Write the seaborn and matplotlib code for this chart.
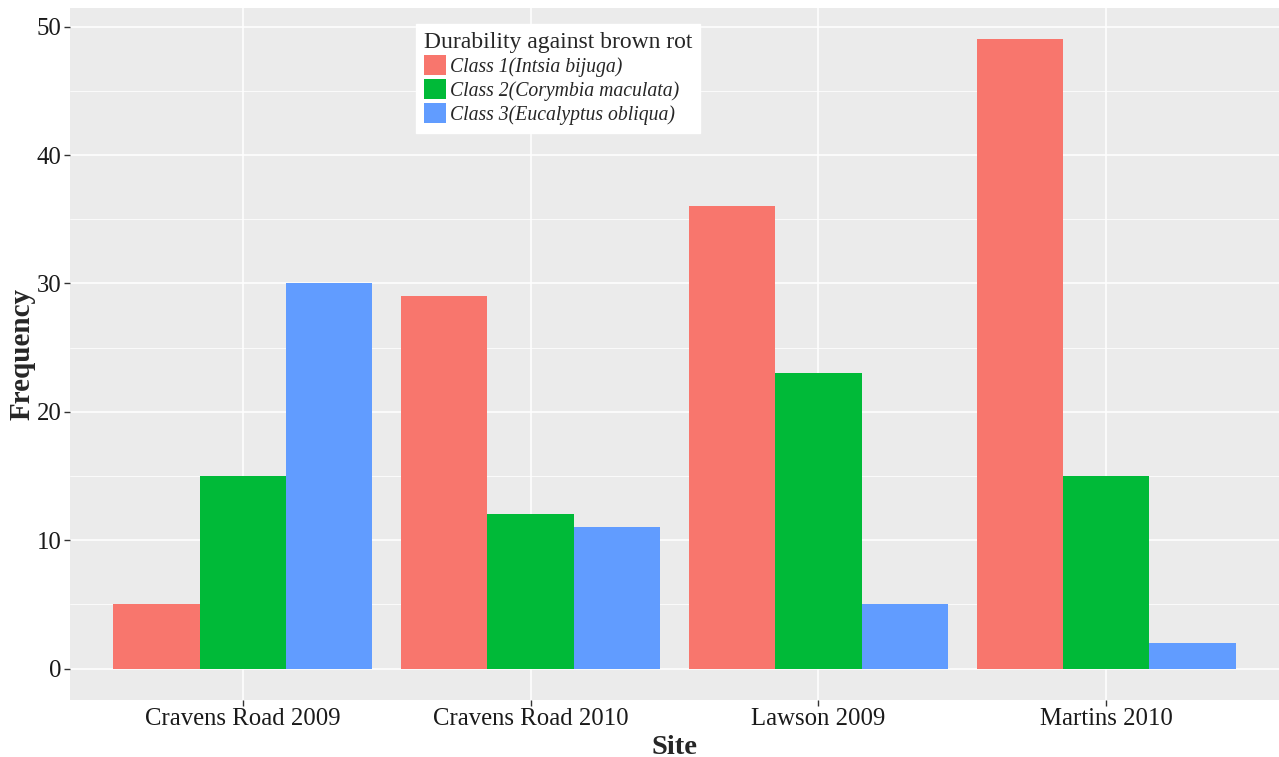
import pandas as pd
import matplotlib.pyplot as plt
import seaborn as sns
from matplotlib.patches import Patch
from matplotlib.ticker import MultipleLocator

# Data
sites = ['Cravens Road 2009', 'Cravens Road 2010', 'Lawson 2009', 'Martins 2010']
classes = ['Class 1(Intsia bijuga)', 'Class 2(Corymbia maculata)', 'Class 3(Eucalyptus obliqua)']
class1 = [5, 29, 36, 49]
class2 = [15, 12, 23, 15]
class3 = [30, 11, 5, 2]

colors = ['#F8766D', '#00BA38', '#619CFF']

df = pd.DataFrame({
    'Site': sites * 3,
    'Class': [classes[0]] * 4 + [classes[1]] * 4 + [classes[2]] * 4,
    'Frequency': class1 + class2 + class3,
})

sns.set_theme(style="darkgrid")
plt.rcParams['font.family'] = ['Liberation Serif', 'DejaVu Serif']
plt.rcParams['xtick.bottom'] = True
plt.rcParams['ytick.left'] = True

fig = plt.figure(figsize=(12.79, 7.57), dpi=100)
ax = fig.add_axes([70 / 1279, 57 / 757, 1 - 70 / 1279, (700 - 8) / 757])
ax.set_facecolor('#EBEBEB')

sns.barplot(data=df, x='Site', y='Frequency', hue='Class', order=sites,
            hue_order=classes, palette=colors, saturation=1, width=0.9,
            gap=0, linewidth=0, ax=ax, legend=False)

ax.set_xlim(-0.6, 3.6)
ax.set_ylim(-2.45, 51.45)
ax.yaxis.set_major_locator(MultipleLocator(10))
ax.yaxis.set_minor_locator(MultipleLocator(5))
ax.grid(True, which='major', color='white', linewidth=1.1)
ax.grid(True, which='minor', axis='y', color='white', linewidth=0.55)
ax.set_axisbelow(True)
for s in ax.spines.values():
    s.set_visible(False)

ax.tick_params(axis='both', which='major', bottom=True, left=True, length=4,
               width=1, color='#333333', labelsize=17.8, labelcolor='#1a1a1a', pad=2)
ax.tick_params(axis='both', which='minor', length=0)
ax.set_xlabel('Site', fontsize=20.5, fontweight='bold', labelpad=3)
ax.set_ylabel('Frequency', fontsize=21, fontweight='bold', labelpad=1)

handles = [Patch(facecolor=c, edgecolor='none') for c in colors]
leg = fig.legend(handles, classes, title='Durability against brown rot',
                 loc='upper left', bbox_to_anchor=(416 / 1279, 1 - 24 / 757),
                 borderaxespad=0, frameon=True, fancybox=False, framealpha=1,
                 edgecolor='white', facecolor='white', borderpad=0.4,
                 handlelength=1.12, handleheight=1.17, handletextpad=0.2,
                 labelspacing=0.12, prop={'size': 14.2, 'style': 'italic'},
                 title_fontsize=17)
leg._legend_box.align = 'left'

fig.savefig('out.png', dpi=100)
